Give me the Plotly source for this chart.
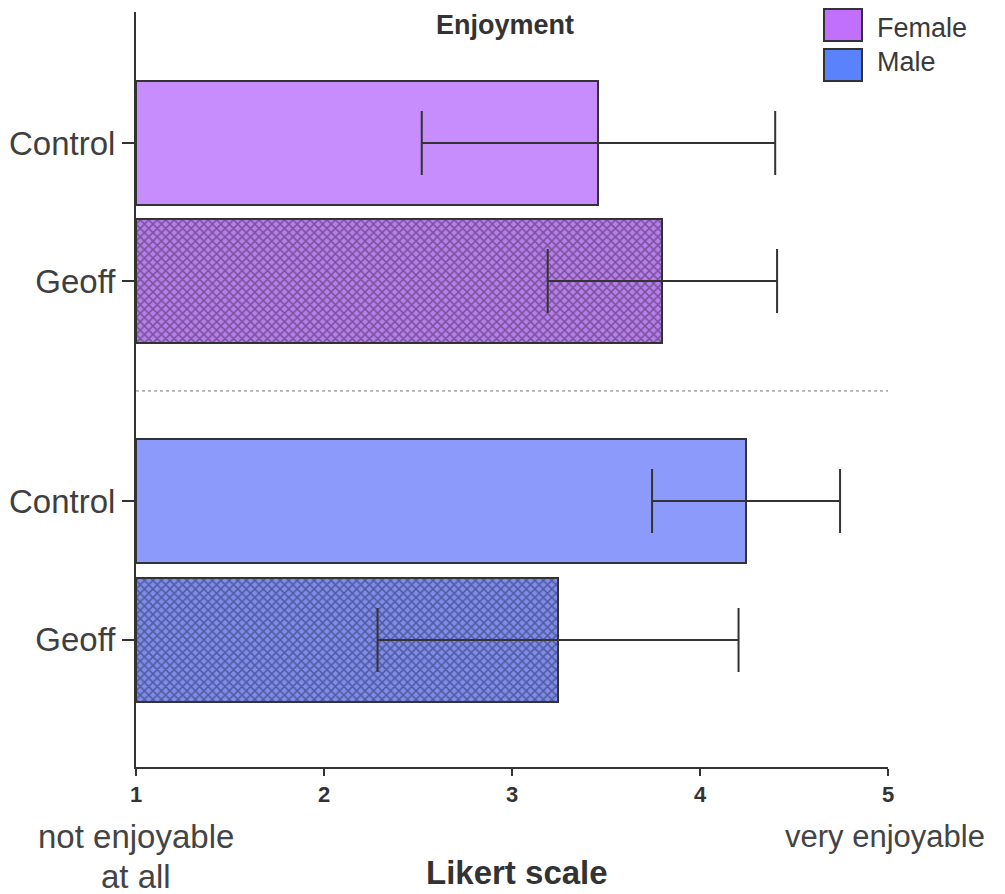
import plotly.graph_objects as go

# Data
groups = ["Female", "Female", "Male", "Male"]
conditions = ["Control", "Geoff", "Control", "Geoff"]
means = [3.46, 3.80, 4.245, 3.245]
sds = [0.94, 0.61, 0.50, 0.96]
positions = [0, 1, 2.594, 3.601]  # vertical slot of each bar
x_ticks = [1, 2, 3, 4, 5]

fill_colors = ["#C78DFC", "#B77FE8", "#8C9BFB", "#7F8CE8"]
pattern_fg = ["", "#3E2456", "", "#222A5E"]
patterns = ["", "x", "", "x"]

FONT = "Liberation Sans, Arial"
PLOT_TOP, PLOT_H = 12, 755


def py(pix):
    """page pixel row -> paper y"""
    return 1 - (pix - PLOT_TOP) / PLOT_H


def px(pix):
    return (pix - 136) / 752


fig = go.Figure()
for i in range(len(means)):
    fig.add_trace(go.Bar(
        x=[means[i] - 1], base=[1], y=[positions[i]], orientation="h",
        width=0.899,
        marker=dict(color=fill_colors[i], line=dict(color="#333333", width=2),
                    pattern=dict(shape=patterns[i], fgcolor=pattern_fg[i] or None,
                                 size=6, solidity=0.45)),
        error_x=dict(type="data", array=[sds[i]], color="#333333", thickness=2, width=32),
        showlegend=False,
    ))

fig.add_shape(type="line", xref="x", yref="y", x0=1, x1=5, y0=1.797, y1=1.797,
              line=dict(color="#777777", width=1, dash="dot"))

# legend drawn manually
leg = [("Female", "#C070FC", 9, 41, 28), ("Male", "#5A82FC", 49, 81, 62)]
for name, col, top, bot, mid in leg:
    fig.add_shape(type="rect", xref="paper", yref="paper",
                  x0=px(824), x1=px(862), y0=py(bot), y1=py(top), fillcolor=col,
                  line=dict(color="#333333", width=2))
    fig.add_annotation(xref="paper", yref="paper", x=px(875), y=py(mid),
                       text=name, showarrow=False, xanchor="left", yanchor="middle",
                       font=dict(size=27, color="#3a3a3a", family=FONT))

fig.add_annotation(xref="paper", yref="paper", x=px(505), y=py(8.5),
                   text="<b>Enjoyment</b>", showarrow=False, xanchor="center", yanchor="top",
                   borderpad=0,
                   font=dict(size=27, color="#333333", family=FONT))
fig.add_annotation(xref="paper", yref="paper", x=px(136), y=py(836),
                   text="not enjoyable", showarrow=False, xanchor="center", yanchor="middle",
                   font=dict(size=33, color="#444444", family=FONT))
fig.add_annotation(xref="paper", yref="paper", x=px(136), y=py(876),
                   text="at all", showarrow=False, xanchor="center", yanchor="middle",
                   font=dict(size=33, color="#444444", family=FONT))
fig.add_annotation(xref="paper", yref="paper", x=px(885), y=py(836),
                   text="very enjoyable", showarrow=False, xanchor="center", yanchor="middle",
                   font=dict(size=31, color="#444444", family=FONT))
fig.add_annotation(xref="paper", yref="paper", x=px(517), y=py(872),
                   text="<b>Likert scale</b>", showarrow=False, xanchor="center", yanchor="middle",
                   font=dict(size=33, color="#333333", family=FONT))

fig.update_layout(
    width=997, height=886,
    margin=dict(l=128, r=117, t=4, b=127, autoexpand=False),
    plot_bgcolor="white", paper_bgcolor="white",
    bargap=0,
    font=dict(family=FONT, color="#333333"),
    xaxis=dict(range=[1, 5], tickvals=x_ticks, ticktext=[f"<b>{v}</b>" for v in x_ticks],
               showline=True, linecolor="#333333", linewidth=2, ticks="outside",
               ticklen=7, tickwidth=2, tickcolor="#333333", showgrid=False, zeroline=False,
               automargin=False, tickfont=dict(size=22, color="#333333")),
    yaxis=dict(range=[4.522, -0.949], tickvals=positions, ticktext=conditions,
               showline=True, linecolor="#333333", linewidth=2, ticks="outside",
               ticklen=12, tickwidth=2, tickcolor="#333333", showgrid=False, zeroline=False,
               automargin=False, tickfont=dict(size=33, color="#3f3f3f")),
)

fig.write_html("out.html")
